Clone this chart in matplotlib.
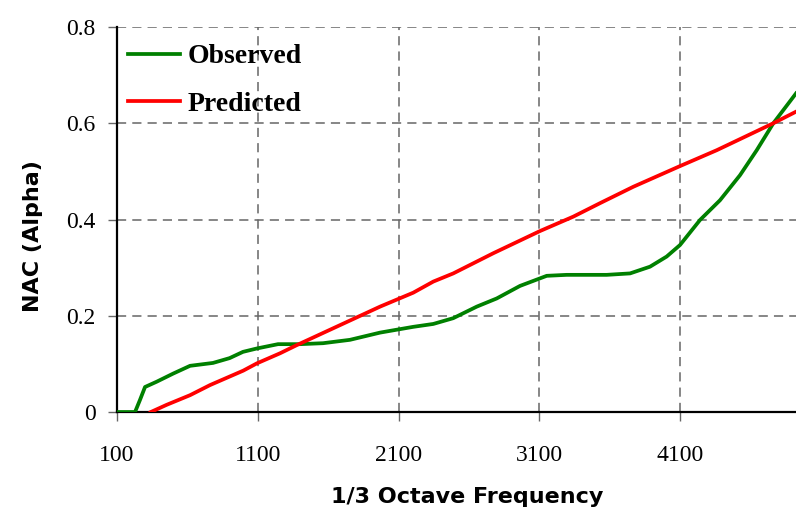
import numpy as np
from matplotlib import pyplot as plt

# values
obs_freq = [100, 228, 263, 299, 382, 500, 619, 782, 900, 995, 1093, 1244, 1400,
            1564, 1755, 1969, 2205, 2347, 2489, 2656, 2798, 2963, 3153, 3295,
            3579, 3745, 3887, 4005, 4100, 4242, 4384, 4526, 4645, 4763, 4924]
obs_nac = [0, 0, 0.025, 0.052, 0.063, 0.080, 0.096, 0.102, 0.112, 0.125, 0.132,
           0.141, 0.141, 0.143, 0.150, 0.165, 0.177, 0.183, 0.195, 0.219, 0.236,
           0.262, 0.283, 0.285, 0.285, 0.288, 0.302, 0.323, 0.347, 0.399, 0.440,
           0.492, 0.544, 0.600, 0.662]

pred_freq = [340, 453, 619, 761, 997, 1093, 1258, 1377, 1969, 2205, 2347, 2489,
             2774, 3105, 3342, 3532, 3768, 4100, 4361, 4763, 4924]
pred_nac = [0, 0.015, 0.035, 0.056, 0.086, 0.101, 0.122, 0.139, 0.219, 0.248,
            0.271, 0.288, 0.330, 0.376, 0.406, 0.434, 0.468, 0.511, 0.544, 0.600,
            0.624]

x_ticks = [100, 1100, 2100, 3100, 4100]
y_ticks = [0, 0.2, 0.4, 0.6, 0.8]
y_tick_labels = ['0', '0.2', '0.4', '0.6', '0.8']

fig = plt.figure(figsize=(7.96, 5.14), dpi=100)
ax = fig.add_axes([0.147, 0.1984, 0.853, 0.7491])

ax.plot(obs_freq, obs_nac, color='#008000', lw=2.7, label='Observed', zorder=3)
ax.plot(pred_freq, pred_nac, color='#ff0000', lw=2.7, label='Predicted', zorder=3)

ax.set_xlim(100, 4924)
ax.set_ylim(0, 0.8)
ax.set_xticks(x_ticks)
ax.set_yticks(y_ticks)
ax.set_yticklabels(y_tick_labels)

ax.grid(True, color='#666666', linestyle=(0, (6, 4)), linewidth=1.1)
ax.set_axisbelow(True)
for s in ['top', 'right']:
    ax.spines[s].set_visible(False)
for s in ['left', 'bottom']:
    ax.spines[s].set_linewidth(1.6)
    ax.spines[s].set_color('black')

ax.tick_params(direction='out', length=6.5, width=1, color='#666666')
ax.tick_params(axis='x', pad=17)
ax.tick_params(axis='y', pad=9)
for lbl in ax.get_xticklabels() + ax.get_yticklabels():
    lbl.set_fontfamily('Liberation Serif')
    lbl.set_fontsize(17)

ax.set_xlabel('1/3 Octave Frequency', fontsize=16, fontweight='bold',
              fontfamily='DejaVu Sans')
ax.set_ylabel('NAC (Alpha)', fontsize=16, fontweight='bold',
              fontfamily='DejaVu Sans')
ax.xaxis.set_label_coords(0.515, -0.195)
ax.yaxis.set_label_coords(-0.109, 0.456)

leg = ax.legend(loc='upper left', bbox_to_anchor=(0.0, 0.985), frameon=False,
                handlelength=1.85, handletextpad=0.3, labelspacing=0.8,
                borderaxespad=0.0,
                prop={'family': 'Liberation Serif', 'weight': 'bold', 'size': 20})

fig.savefig('out.png', dpi=100)
